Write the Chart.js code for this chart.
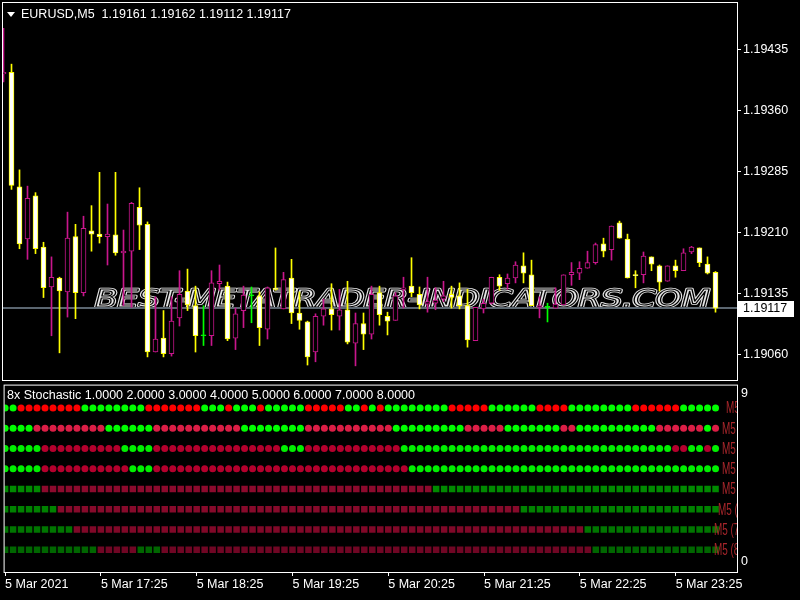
<!DOCTYPE html>
<html>
<head>
<meta charset="utf-8">
<title>EURUSD M5</title>
<script src="https://cdn.jsdelivr.net/npm/chart.js@4.4.1/dist/chart.umd.min.js"></script>
<style>
html, body { margin: 0; padding: 0; background: #000; }
#wrap { position: relative; width: 800px; height: 600px; background: #000; overflow: hidden; }
#priceChart { position: absolute; left: 0; top: 0; }
#stochChart { position: absolute; left: 0; top: 381px; }
</style>
</head>
<body>
<div id="wrap">
  <canvas id="priceChart" width="800" height="382"></canvas>
  <canvas id="stochChart" width="800" height="219"></canvas>
</div>
<script>
// EURUSD M5 bars
const opens = [
  1.19405, 1.19407, 1.19266, 1.19202, 1.19255, 1.19192, 1.19143, 1.19154, 1.19137, 1.19205,
  1.19136, 1.19212, 1.19208, 1.19205, 1.19207, 1.19185, 1.19187, 1.19241, 1.19220, 1.19063,
  1.19080, 1.19061, 1.19105, 1.19138, 1.19120, 1.19083, 1.19083, 1.19147, 1.19144, 1.19080,
  1.19114, 1.19132, 1.19132, 1.19091, 1.19141, 1.19116, 1.19154, 1.19111, 1.19100, 1.19063,
  1.19107, 1.19116, 1.19107, 1.19115, 1.19074, 1.19098, 1.19085, 1.19136, 1.19107, 1.19102,
  1.19140, 1.19144, 1.19134, 1.19122, 1.19123, 1.19128, 1.19134, 1.19132, 1.19120, 1.19077,
  1.19116, 1.19123, 1.19155, 1.19147, 1.19154, 1.19169, 1.19158, 1.19118, 1.19118, 1.19117,
  1.19121, 1.19158, 1.19160, 1.19166, 1.19173, 1.19196, 1.19189, 1.19222, 1.19202, 1.19158,
  1.19158, 1.19180, 1.19169, 1.19150, 1.19169, 1.19163, 1.19186, 1.19191, 1.19171, 1.19161
];
const highs = [
  1.19461, 1.19417, 1.19287, 1.19267, 1.19259, 1.19198, 1.19180, 1.19155, 1.19235, 1.19220,
  1.19230, 1.19243, 1.19284, 1.19245, 1.19284, 1.19213, 1.19247, 1.19265, 1.19223, 1.19131,
  1.19114, 1.19131, 1.19163, 1.19165, 1.19144, 1.19120, 1.19163, 1.19170, 1.19149, 1.19117,
  1.19144, 1.19143, 1.19137, 1.19143, 1.19191, 1.19161, 1.19177, 1.19137, 1.19101, 1.19110,
  1.19128, 1.19147, 1.19140, 1.19150, 1.19111, 1.19111, 1.19144, 1.19144, 1.19112, 1.19136,
  1.19155, 1.19179, 1.19143, 1.19155, 1.19142, 1.19150, 1.19144, 1.19148, 1.19140, 1.19118,
  1.19128, 1.19155, 1.19158, 1.19159, 1.19174, 1.19185, 1.19176, 1.19131, 1.19123, 1.19142,
  1.19158, 1.19173, 1.19174, 1.19187, 1.19197, 1.19203, 1.19218, 1.19224, 1.19208, 1.19163,
  1.19186, 1.19180, 1.19170, 1.19169, 1.19176, 1.19190, 1.19193, 1.19191, 1.19180, 1.19162
];
const lows = [
  1.19395, 1.19263, 1.19190, 1.19177, 1.19184, 1.19130, 1.19083, 1.19062, 1.19106, 1.19104,
  1.19132, 1.19187, 1.19197, 1.19170, 1.19182, 1.19120, 1.19118, 1.19189, 1.19057, 1.19063,
  1.19057, 1.19058, 1.19095, 1.19114, 1.19063, 1.19071, 1.19071, 1.19139, 1.19077, 1.19066,
  1.19093, 1.19099, 1.19071, 1.19079, 1.19139, 1.19116, 1.19098, 1.19091, 1.19047, 1.19051,
  1.19096, 1.19090, 1.19090, 1.19073, 1.19046, 1.19066, 1.19079, 1.19096, 1.19084, 1.19102,
  1.19117, 1.19131, 1.19116, 1.19112, 1.19115, 1.19125, 1.19117, 1.19116, 1.19069, 1.19077,
  1.19111, 1.19122, 1.19139, 1.19140, 1.19148, 1.19148, 1.19120, 1.19105, 1.19100, 1.19117,
  1.19121, 1.19145, 1.19152, 1.19166, 1.19171, 1.19180, 1.19176, 1.19203, 1.19154, 1.19142,
  1.19148, 1.19163, 1.19138, 1.19150, 1.19155, 1.19163, 1.19184, 1.19168, 1.19159, 1.19112
];
const closes = [
  1.19407, 1.19268, 1.19196, 1.19252, 1.19190, 1.19142, 1.19155, 1.19138, 1.19203, 1.19136,
  1.19215, 1.19208, 1.19205, 1.19208, 1.19185, 1.19187, 1.19246, 1.19219, 1.19063, 1.19079,
  1.19061, 1.19101, 1.19134, 1.19121, 1.19083, 1.19083, 1.19148, 1.19150, 1.19079, 1.19110,
  1.19133, 1.19132, 1.19093, 1.19142, 1.19140, 1.19152, 1.19111, 1.19102, 1.19057, 1.19107,
  1.19116, 1.19109, 1.19115, 1.19075, 1.19098, 1.19085, 1.19134, 1.19109, 1.19101, 1.19132,
  1.19142, 1.19136, 1.19121, 1.19125, 1.19127, 1.19132, 1.19130, 1.19120, 1.19078, 1.19118,
  1.19123, 1.19155, 1.19144, 1.19154, 1.19170, 1.19160, 1.19120, 1.19120, 1.19118, 1.19122,
  1.19158, 1.19161, 1.19166, 1.19173, 1.19195, 1.19187, 1.19218, 1.19203, 1.19154, 1.19157,
  1.19181, 1.19171, 1.19149, 1.19169, 1.19163, 1.19185, 1.19192, 1.19173, 1.19160, 1.19117
];

const priceTicks = [1.19060, 1.19135, 1.19210, 1.19285, 1.19360, 1.19435];
const timeTickBars = [0, 12, 24, 36, 48, 60, 72, 84];
const timeTickLabels = ["5 Mar 2021", "5 Mar 17:25", "5 Mar 18:25", "5 Mar 19:25",
  "5 Mar 20:25", "5 Mar 21:25", "5 Mar 22:25", "5 Mar 23:25"];

// 8x Stochastic state per bar (G = up, R = down), one line per row, top to bottom
const stochPeriods = [1, 2, 3, 4, 5, 6, 7, 8];
const stochLevels = [8, 7, 6, 5, 4, 3, 2, 1];
const stochRow1 = "GGRRRRRRRR GGGGGGGGRR RRRRRGGGRG GGRGGGGGRR RRRGGRGRGG GGGGGGRRRR RGGGGGGRRR RGGGGGGGGR RRRRRGGGGG";
const stochRow2 = "GGGGRRRRRR RRRGGGGGGR RRRRRRRRRR GGGGGGGGRR RRRRRRRRRG GGGGGGGGRR RRRGGGGGGG RRGGGGGGGG GGRRRRRRGR";
const stochRow3 = "GGGGGRRRRR RRRRRGGGGR RRRRRRRRRR RRRRRGGGRR RRRRRRRRRR GGGGGGGGGG GGGGGGGGGG GGGGGGGGGG GGGGRRGGRG";
const stochRow4 = "GGGGGRRRRR RRRRRRGGGR RRRRRRRRRR RRRRRRRRRR RRRRRRRRRR RGGGGGGGGG GGGGGGGGGG GGGGGGGGGG GGGGGGGGGG";
const stochRow5 = "GGGGGRRRRR RRRRRRRRRR RRRRRRRRRR RRRRRRRRRR RRRRRRRRRR RRRRGGGGGG GGGGGGGGGG GGGGGGGGGG GGGGGGGGGG";
const stochRow6 = "GGGGGGGRRR RRRRRRRRRR RRRRRRRRRR RRRRRRRRRR RRRRRRRRRR RRRRRRRRRR RRRRRGGGGG GGGGGGGGGG GGGGGGGGGG";
const stochRow7 = "GGGGGGGGGR RRRRRRRRRR RRRRRRRRRR RRRRRRRRRR RRRRRRRRRR RRRRRRRRRR RRRRRRRRRR RRRGGGGGGG GGGGGGGGGG";
const stochRow8 = "GGGGGGGGGG GGRRRRRGGG RRRRRRRRRR RRRRRRRRRR RRRRRRRRRR RRRRRRRRRR RRRRRRRRRR RRRRGGGGGG GGGGGGGGGG";

// ---- chart setup ----
Chart.defaults.font.family = '"Liberation Sans", Arial, sans-serif';
Chart.defaults.font.size = 12.5;
Chart.defaults.color = "#ffffff";

const xMin = -0.0625, xMax = 91.6875;
const yMin = 1.190286, yMax = 1.194922;
const lastPrice = closes[closes.length - 1];

const bullColor = "#c8168c";
const bearColor = "#ffff00";
const dojiColor = "#00ff00";

function candleKind(i) {
    if (closes[i] > opens[i]) return "bull";
    if (closes[i] < opens[i]) return "bear";
    return "doji";
}

const wickColors = opens.map((o, i) => {
    const k = candleKind(i);
    return k === "bull" ? bullColor : k === "bear" ? bearColor : dojiColor;
});
const bodyFill = opens.map((o, i) => {
    const k = candleKind(i);
    return k === "bull" ? "#000000" : k === "bear" ? "#ffffff" : dojiColor;
});

const pricePanel = {
    id: "pricePanel",
    beforeDraw(chart) {
        const ctx = chart.ctx;
        ctx.save();
        ctx.fillStyle = "#000";
        ctx.fillRect(0, 0, chart.width, chart.height);
        ctx.restore();
    },
    beforeDatasetsDraw(chart) {
        const ctx = chart.ctx;
        const a = chart.chartArea;
        const y = chart.scales.y;

        // watermark, thin double outline
        ctx.save();
        ctx.beginPath();
        ctx.rect(a.left, a.top, a.right - a.left, a.bottom - a.top);
        ctx.clip();
        const mark = "BEST-METATRADER-INDICATORS.COM";
        ctx.font = 'italic 24px "DejaVu Sans"';
        const w = ctx.measureText(mark).width;
        ctx.translate(95, 307);
        ctx.scale(615 / w, 1);
        ctx.textBaseline = "alphabetic";
        ctx.lineJoin = "round";
        ctx.strokeStyle = "#e6e6e6";
        ctx.lineWidth = 2.6;
        ctx.strokeText(mark, 0, 0);
        ctx.strokeStyle = "#000";
        ctx.lineWidth = 1.0;
        ctx.strokeText(mark, 0, 0);
        ctx.restore();

        // last price line
        const py = y.getPixelForValue(lastPrice);
        ctx.save();
        ctx.strokeStyle = "#5b6670";
        ctx.lineWidth = 2;
        ctx.beginPath();
        ctx.moveTo(a.left, py);
        ctx.lineTo(a.right, py);
        ctx.stroke();
        ctx.restore();
    },
    afterDraw(chart) {
        const ctx = chart.ctx;
        const a = chart.chartArea;
        const y = chart.scales.y;
        ctx.save();
        ctx.strokeStyle = "#ffffff";
        ctx.lineWidth = 1;
        ctx.strokeRect(a.left - 0.5, a.top - 0.5, a.right - a.left + 1, a.bottom - a.top + 1);

        // title
        ctx.fillStyle = "#ffffff";
        ctx.beginPath();
        ctx.moveTo(7, 12);
        ctx.lineTo(15, 12);
        ctx.lineTo(11, 17);
        ctx.closePath();
        ctx.fill();
        ctx.font = '12.5px "Liberation Sans", Arial, sans-serif';
        ctx.textBaseline = "middle";
        ctx.textAlign = "left";
        const n = closes.length - 1;
        const title = "EURUSD,M5  " + [opens[n], highs[n], lows[n], closes[n]].map(v => v.toFixed(5)).join(" ");
        ctx.fillText(title, 21, 15);

        // price box
        const py = Math.round(y.getPixelForValue(lastPrice));
        ctx.fillStyle = "#ffffff";
        ctx.fillRect(738, py - 7, 56, 16);
        ctx.fillStyle = "#000000";
        ctx.fillText(lastPrice.toFixed(5), 743, py + 1);
        ctx.restore();
    }
};

new Chart(document.getElementById("priceChart"), {
    type: "bar",
    data: {
        datasets: [
            {
                label: "body",
                data: opens.map((o, i) => ({ x: i, y: [o, closes[i]] })),
                backgroundColor: bodyFill,
                borderColor: wickColors,
                borderWidth: 1,
                borderSkipped: false,
                barThickness: 5,
                minBarLength: 1,
                grouped: false,
                clip: 0
            },
            {
                label: "wick",
                data: lows.map((l, i) => ({ x: i, y: [l, highs[i]] })),
                backgroundColor: wickColors,
                borderWidth: 0,
                barThickness: 1,
                grouped: false,
                clip: 0
            }
        ]
    },
    options: {
        responsive: false,
        animation: false,
        events: [],
        layout: { padding: { left: 3, top: 3, right: 0, bottom: 2 } },
        plugins: { legend: { display: false }, tooltip: { enabled: false } },
        scales: {
            x: {
                type: "linear",
                display: false,
                min: xMin,
                max: xMax,
                offset: false
            },
            y: {
                type: "linear",
                position: "right",
                min: yMin,
                max: yMax,
                bounds: "data",
                afterBuildTicks: ax => { ax.ticks = priceTicks.map(v => ({ value: v })); },
                afterFit: ax => { ax.width = 63; ax.paddingTop = 0; ax.paddingBottom = 0; },
                ticks: {
                    color: "#ffffff",
                    padding: 2,
                    callback: v => Number(v).toFixed(5)
                },
                grid: { display: true, drawOnChartArea: false, drawTicks: true, tickLength: 4, color: "#ffffff" },
                border: { display: false }
            }
        }
    },
    plugins: [pricePanel]
});

// ---- indicator window ----
const stochRows = [stochRow1, stochRow2, stochRow3, stochRow4, stochRow5, stochRow6, stochRow7, stochRow8]
    .map(s => s.replace(/ /g, "").split(""));

const upColors = ["#00ff00", "#00ff00", "#00f000", "#00f000", "#008a00", "#008200", "#007600", "#006600"];
const downColors = ["#ff0000", "#dc1e46", "#b4002d", "#b4002d", "#8c0a2d", "#870a2b", "#800828", "#700624"];
const labelX = [726, 722, 722, 722, 722, 718, 714, 714];

const stochPanel = {
    id: "stochPanel",
    beforeDraw(chart) {
        const ctx = chart.ctx;
        ctx.save();
        ctx.fillStyle = "#000";
        ctx.fillRect(0, 0, chart.width, chart.height);
        ctx.restore();
    },
    afterDraw(chart) {
        const ctx = chart.ctx;
        const a = chart.chartArea;
        const y = chart.scales.y;
        ctx.save();
        ctx.strokeStyle = "#ffffff";
        ctx.lineWidth = 1;
        ctx.strokeRect(a.left - 0.5, a.top - 0.5, a.right - a.left + 1, a.bottom - a.top + 1);

        ctx.fillStyle = "#ffffff";
        ctx.font = '12.5px "Liberation Sans", Arial, sans-serif';
        ctx.textBaseline = "middle";
        ctx.textAlign = "left";
        ctx.fillText("8x Stochastic " + stochPeriods.map(p => p.toFixed(4)).join(" "), 7, 15);
        ctx.fillText("9", 741, 13);
        ctx.fillText("0", 741, 181);

        // row captions, cut off by the window edge
        ctx.beginPath();
        ctx.rect(a.left, a.top, a.right - a.left, a.bottom - a.top);
        ctx.clip();
        ctx.fillStyle = "#a8262b";
        ctx.font = '16px "Liberation Sans", Arial, sans-serif';
        stochLevels.forEach((lv, i) => {
            ctx.save();
            ctx.translate(labelX[i], y.getPixelForValue(lv) + 1);
            ctx.scale(0.62, 1);
            ctx.fillText("M5 (" + stochPeriods[i] + ")", 0, 0);
            ctx.restore();
        });
        ctx.restore();
    }
};

new Chart(document.getElementById("stochChart"), {
    type: "scatter",
    data: {
        datasets: stochRows.map((row, r) => ({
            label: "Stoch " + stochPeriods[r],
            data: row.map((s, i) => ({ x: i, y: stochLevels[r] })),
            pointBackgroundColor: row.map(s => s === "G" ? upColors[r] : downColors[r]),
            pointBorderWidth: 0,
            pointStyle: r < 4 ? "circle" : "rect",
            pointRadius: r < 4 ? 3.5 : 4.6,
            showLine: false,
            clip: 0
        }))
    },
    options: {
        responsive: false,
        animation: false,
        events: [],
        layout: { padding: { left: 3, top: 2, right: 63, bottom: 0 } },
        plugins: { legend: { display: false }, tooltip: { enabled: false } },
        scales: {
            x: {
                type: "linear",
                position: "bottom",
                min: xMin,
                max: xMax,
                bounds: "data",
                offset: false,
                afterBuildTicks: ax => { ax.ticks = timeTickBars.map(v => ({ value: v })); },
                afterFit: ax => { ax.height = 28; ax.paddingLeft = 0; ax.paddingRight = 0; },
                ticks: {
                    autoSkip: false,
                    maxRotation: 0,
                    minRotation: 0,
                    align: "start",
                    padding: 1,
                    color: "#ffffff",
                    callback: (v, i) => timeTickLabels[i]
                },
                grid: { display: true, drawOnChartArea: false, drawTicks: true, tickLength: 4, color: "#ffffff" },
                border: { display: false }
            },
            y: {
                type: "linear",
                display: false,
                min: -0.1,
                max: 9.1
            }
        }
    },
    plugins: [stochPanel]
});
</script>
</body>
</html>
